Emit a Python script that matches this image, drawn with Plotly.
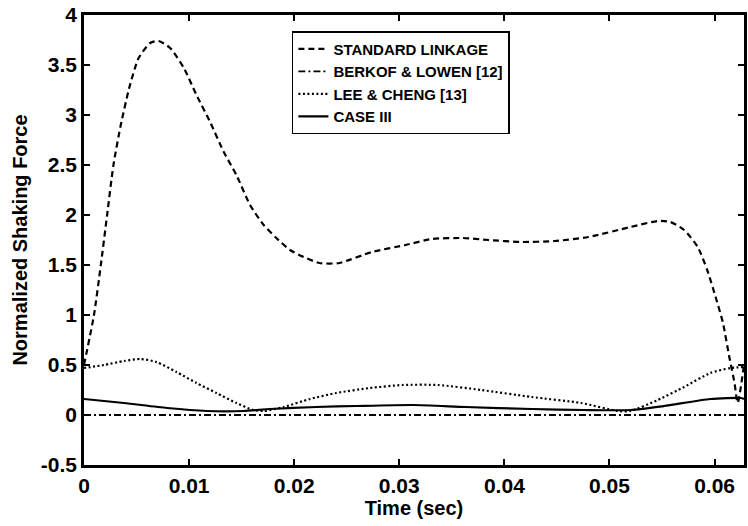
import plotly.graph_objects as go

# Standard linkage (dashed)
std_t = [0.0, 0.00095, 0.0016, 0.0022, 0.0028, 0.0035, 0.0043, 0.0052, 0.0063, 0.0071,
         0.0082, 0.0095, 0.0107, 0.012, 0.0133, 0.0145, 0.0158, 0.0171, 0.0183, 0.0196,
         0.0209, 0.0224, 0.0243, 0.0274, 0.0306, 0.0331, 0.036, 0.0385, 0.0416, 0.0448,
         0.048, 0.052, 0.0546, 0.0558, 0.0571, 0.0584, 0.0593, 0.0601, 0.0608, 0.0614,
         0.0619, 0.0622, 0.0628]
std_f = [0.5, 1.0, 1.5, 2.0, 2.5, 2.9, 3.27, 3.57, 3.72, 3.74,
         3.67, 3.47, 3.2, 2.93, 2.63, 2.4, 2.1, 1.9, 1.77, 1.65,
         1.58, 1.52, 1.52, 1.63, 1.70, 1.76, 1.77, 1.75, 1.73, 1.74,
         1.78, 1.88, 1.94, 1.93, 1.85, 1.68, 1.45, 1.18, 0.92, 0.58,
         0.32, 0.12, 0.5]

# Berkof & Lowen (dash-dot)
bl_t = [0.0, 0.0628]
bl_f = [0.0, 0.0]

# Lee & Cheng (dotted)
lc_t = [0.0, 0.0019, 0.0038, 0.0054, 0.0069, 0.0088, 0.0107, 0.0126, 0.0145, 0.0161,
        0.0171, 0.019, 0.0215, 0.024, 0.0272, 0.0303, 0.0337, 0.0378, 0.0426, 0.0473,
        0.0508, 0.052, 0.0546, 0.0571, 0.0596, 0.0615, 0.0628]
lc_f = [0.47, 0.50, 0.54, 0.56, 0.53, 0.43, 0.32, 0.22, 0.12, 0.05,
        0.04, 0.08, 0.16, 0.22, 0.27, 0.30, 0.30, 0.25, 0.18, 0.12,
        0.04, 0.04, 0.15, 0.28, 0.42, 0.47, 0.48]

# Case III (solid)
c3_t = [0.0, 0.0038, 0.0079, 0.0117, 0.0152, 0.0177, 0.0221, 0.0259, 0.0313, 0.0363,
        0.0426, 0.0476, 0.052, 0.0552, 0.0596, 0.0625, 0.0628]
c3_f = [0.16, 0.12, 0.07, 0.04, 0.04, 0.06, 0.08, 0.09, 0.10, 0.08,
        0.06, 0.05, 0.05, 0.09, 0.16, 0.17, 0.16]

x_ticks = [0, 0.01, 0.02, 0.03, 0.04, 0.05, 0.06]
x_labels = ["0", "0.01", "0.02", "0.03", "0.04", "0.05", "0.06"]
y_ticks = [-0.5, 0, 0.5, 1, 1.5, 2, 2.5, 3, 3.5, 4]
y_labels = ["-0.5", "0", "0.5", "1", "1.5", "2", "2.5", "3", "3.5", "4"]

FONT = "Liberation Sans, Arial, Helvetica, sans-serif"

fig = go.Figure()
fig.add_trace(go.Scatter(x=std_t, y=std_f, mode="lines", name="<b>STANDARD LINKAGE</b>",
                         line=dict(color="black", width=2.2, dash="6px,4px", shape="spline", smoothing=0.6)))
fig.add_trace(go.Scatter(x=bl_t, y=bl_f, mode="lines", name="<b>BERKOF & LOWEN [12]</b>",
                         line=dict(color="black", width=1.8, dash="7px,3px,2px,3px")))
fig.add_trace(go.Scatter(x=lc_t, y=lc_f, mode="lines", name="<b>LEE & CHENG [13]</b>",
                         line=dict(color="black", width=2.2, dash="2px,2.5px", shape="spline", smoothing=0.6)))
fig.add_trace(go.Scatter(x=c3_t, y=c3_f, mode="lines", name="<b>CASE III</b>",
                         line=dict(color="black", width=2.2, shape="spline", smoothing=0.6)))

axis_common = dict(showline=True, linecolor="black", linewidth=2.5, mirror="ticks",
                   ticks="inside", ticklen=6, tickwidth=2, tickcolor="black",
                   showgrid=False, zeroline=False,
                   tickfont=dict(family=FONT, size=21, color="black", weight="bold"))

fig.update_xaxes(range=[0, 0.0628], tickvals=x_ticks,
                 ticktext=["<b>%s</b>" % s for s in x_labels],
                 title=dict(text="<b>Time (sec)</b>", font=dict(family=FONT, size=20, color="black", weight="bold"),
                            standoff=3),
                 **axis_common)
fig.update_yaxes(range=[-0.5, 4], tickvals=y_ticks,
                 ticktext=["<b>%s</b>" % s for s in y_labels],
                 title=dict(text="<b>Normalized Shaking Force</b>", font=dict(family=FONT, size=20, color="black", weight="bold"),
                            standoff=8),
                 **axis_common)

fig.update_layout(
    width=748, height=526,
    margin=dict(l=84, r=1, t=15, b=61),
    plot_bgcolor="white", paper_bgcolor="white",
    legend=dict(x=0.315, y=0.964, xanchor="left", yanchor="top",
                bgcolor="white", bordercolor="black", borderwidth=1.5,
                font=dict(family=FONT, size=15, color="black", weight="bold"),
                tracegroupgap=0, itemwidth=30),
)

fig.write_html("out.html")
